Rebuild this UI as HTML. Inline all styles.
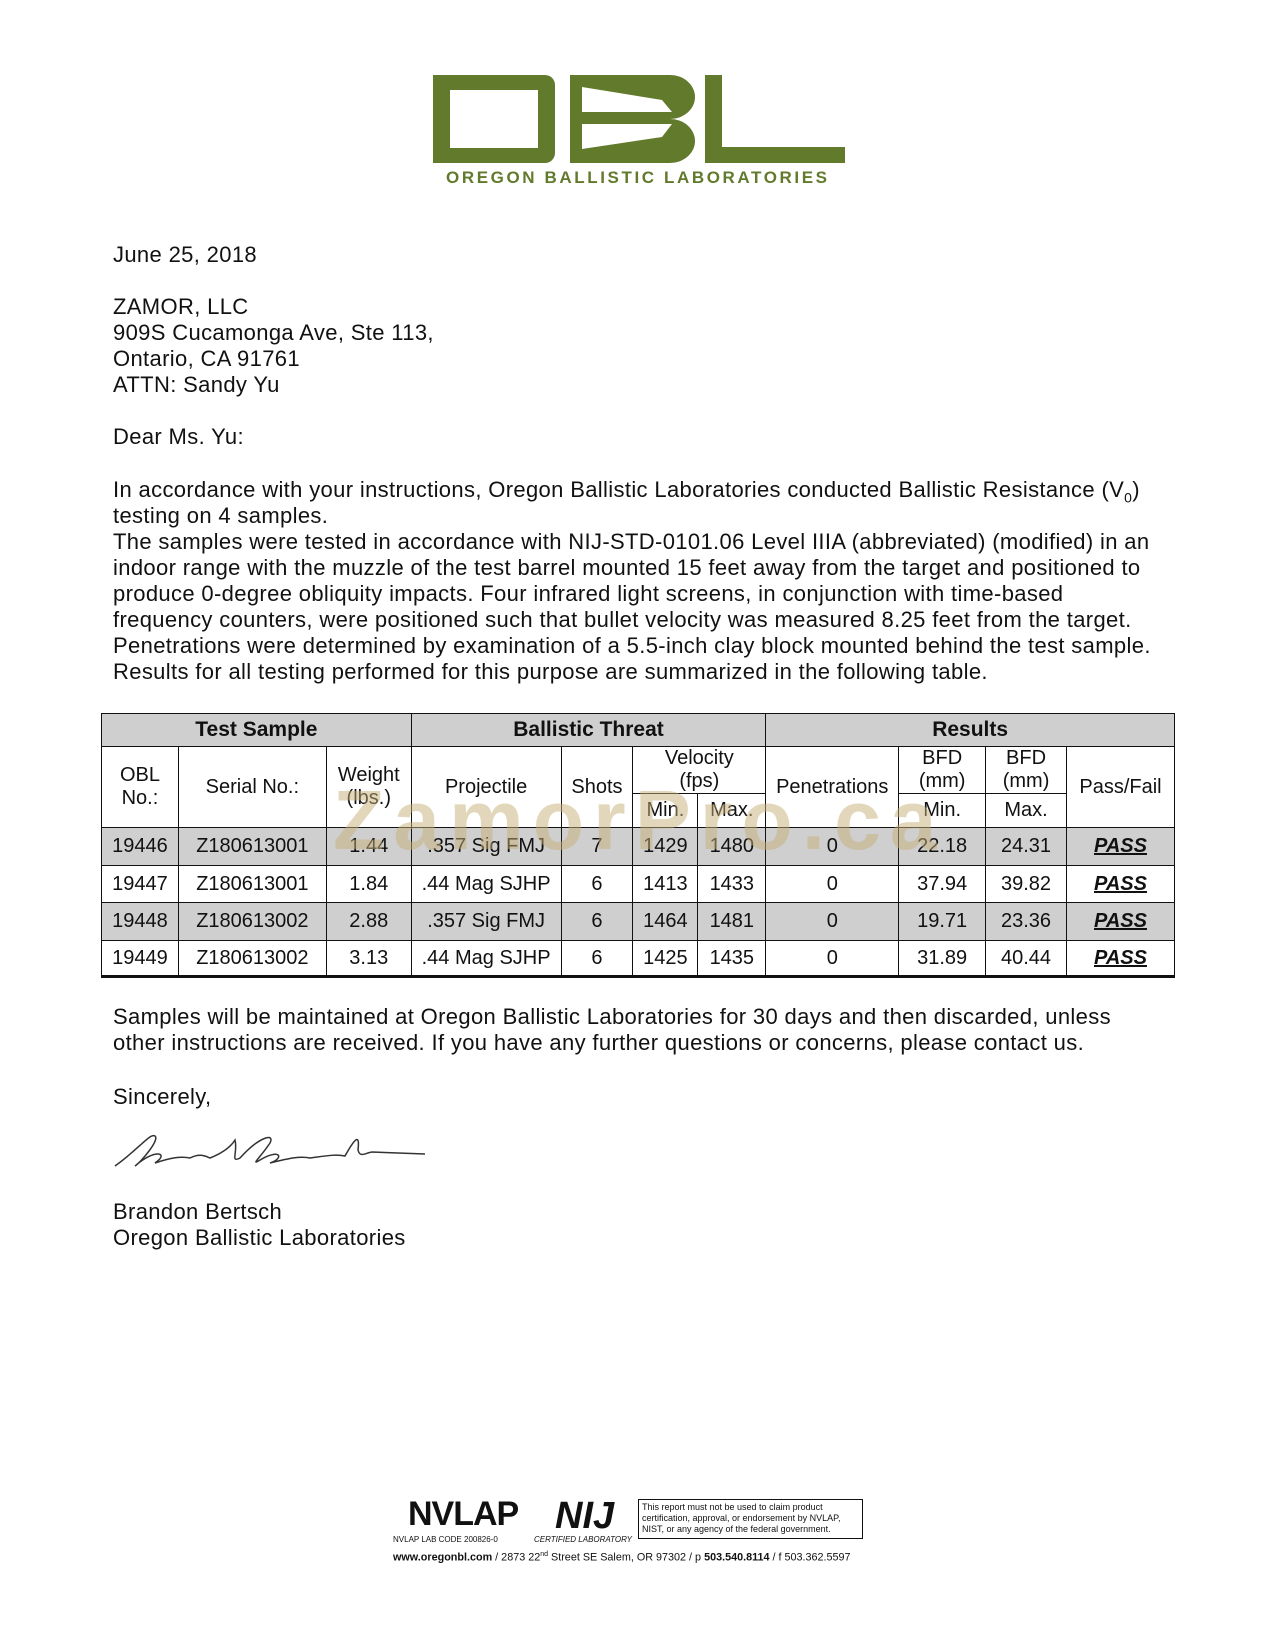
<!DOCTYPE html>
<html><head><meta charset="utf-8"><style>
body{margin:0;background:#fff;}
#p{position:relative;width:1275px;height:1641px;overflow:hidden;font-family:"Liberation Sans",Arial,sans-serif;color:#111;}
.t{position:absolute;left:113px;font-size:22px;line-height:26px;white-space:nowrap;letter-spacing:0.35px;}
sub{line-height:0;font-size:14px;}
table{position:absolute;left:101px;top:713px;width:1074px;border-collapse:collapse;font-size:20px;}
td{border:1.5px solid #111;text-align:center;padding:0;}
.g{background:#cfcfcf;}
.h td{font-weight:bold;font-size:21px;}
.pass{font-weight:bold;font-style:italic;text-decoration:underline;}
</style></head><body><div id="p">
<svg style="position:absolute;left:430px;top:72px" width="420" height="115">
<g fill="#627a2c">
<path d="M3 3h112a10 10 0 0 1 10 10v68a10 10 0 0 1-10 10H3z M20 18v58h88V18z" fill-rule="evenodd"/>
<path d="M140 3h100a25 22 0 0 1 0 44a25 22 0 0 1 0 44H140z M152 15v25h90l-10-12-80-13z M152 52v25l80-12 10-13z" fill-rule="evenodd"/>
<path d="M275 3h17v72h123v16H275z"/>
</g>
<text x="16" y="111" font-family="Liberation Sans,Arial,sans-serif" font-weight="bold" font-size="17" fill="#627a2c" letter-spacing="2.6">OREGON BALLISTIC LABORATORIES</text>
</svg>
<div class="t" style="top:242px">June 25, 2018</div>
<div class="t" style="top:294px">ZAMOR, LLC<br>909S Cucamonga Ave, Ste 113,<br>Ontario, CA 91761<br>ATTN: Sandy Yu</div>
<div class="t" style="top:424px">Dear Ms. Yu:</div>
<div class="t" style="top:477px">In accordance with your instructions, Oregon Ballistic Laboratories conducted Ballistic Resistance (V<sub>0</sub>)<br>testing on 4 samples.<br>The samples were tested in accordance with NIJ-STD-0101.06 Level IIIA (abbreviated) (modified) in an<br>indoor range with the muzzle of the test barrel mounted 15 feet away from the target and positioned to<br>produce 0-degree obliquity impacts. Four infrared light screens, in conjunction with time-based<br>frequency counters, were positioned such that bullet velocity was measured 8.25 feet from the target.<br>Penetrations were determined by examination of a 5.5-inch clay block mounted behind the test sample.<br>Results for all testing performed for this purpose are summarized in the following table.</div>
<table>
<colgroup><col style="width:77px"><col style="width:148px"><col style="width:85px"><col style="width:150px"><col style="width:72px"><col style="width:65px"><col style="width:68px"><col style="width:133px"><col style="width:87px"><col style="width:81px"><col style="width:108px"></colgroup>
<tr class="h g" style="height:33px"><td colspan="3">Test Sample</td><td colspan="4">Ballistic Threat</td><td colspan="4">Results</td></tr>
<tr style="height:47px"><td rowspan="2">OBL<br>No.:</td><td rowspan="2">Serial No.:</td><td rowspan="2">Weight<br>(lbs.)</td><td rowspan="2">Projectile</td><td rowspan="2">Shots</td><td colspan="2">Velocity<br>(fps)</td><td rowspan="2">Penetrations</td><td>BFD<br>(mm)</td><td>BFD<br>(mm)</td><td rowspan="2">Pass/Fail</td></tr>
<tr style="height:34px"><td>Min.</td><td>Max.</td><td>Min.</td><td>Max.</td></tr>
<tr class="g" style="height:38px"><td>19446</td><td>Z180613001</td><td>1.44</td><td>.357 Sig FMJ</td><td>7</td><td>1429</td><td>1480</td><td>0</td><td>22.18</td><td>24.31</td><td class="pass">PASS</td></tr>
<tr style="height:37px"><td>19447</td><td>Z180613001</td><td>1.84</td><td>.44 Mag SJHP</td><td>6</td><td>1413</td><td>1433</td><td>0</td><td>37.94</td><td>39.82</td><td class="pass">PASS</td></tr>
<tr class="g" style="height:38px"><td>19448</td><td>Z180613002</td><td>2.88</td><td>.357 Sig FMJ</td><td>6</td><td>1464</td><td>1481</td><td>0</td><td>19.71</td><td>23.36</td><td class="pass">PASS</td></tr>
<tr style="height:36px;border-bottom:3px solid #111"><td>19449</td><td>Z180613002</td><td>3.13</td><td>.44 Mag SJHP</td><td>6</td><td>1425</td><td>1435</td><td>0</td><td>31.89</td><td>40.44</td><td class="pass">PASS</td></tr>
</table>
<div style="position:absolute;left:333px;top:772px;font-size:84px;font-weight:bold;color:rgba(200,175,120,0.5);white-space:nowrap;letter-spacing:9px">ZamorPro.ca</div>
<div class="t" style="top:1004px">Samples will be maintained at Oregon Ballistic Laboratories for 30 days and then discarded, unless<br>other instructions are received. If you have any further questions or concerns, please contact us.</div>
<div class="t" style="top:1084px">Sincerely,</div>
<svg style="position:absolute;left:110px;top:1128px" width="320" height="45"><path d="M5 38 C30 20 40 5 45 8 C50 12 30 35 25 38 C45 20 60 25 45 35 C60 30 70 28 80 30 C90 25 95 28 100 30 C110 26 120 20 125 12 C128 25 120 35 130 30 C150 8 165 5 160 15 C150 30 140 38 150 32 C170 20 175 30 160 35 C180 30 190 28 200 30 C215 28 225 26 235 28 C245 10 250 5 248 22 C250 30 255 25 262 24 L315 26" fill="none" stroke="#333" stroke-width="1.5"/></svg>
<div class="t" style="top:1199px">Brandon Bertsch<br>Oregon Ballistic Laboratories</div>
<div style="position:absolute;left:408px;top:1495px;font-size:34px;font-weight:900;letter-spacing:-1px">NVLAP</div>
<div style="position:absolute;left:393px;top:1535px;font-size:8px">NVLAP LAB CODE 200826-0</div>
<div style="position:absolute;left:555px;top:1495px;font-size:38px;font-weight:900;font-style:italic">NIJ</div>
<div style="position:absolute;left:534px;top:1535px;font-size:8px;font-style:italic">CERTIFIED LABORATORY</div>
<div style="position:absolute;left:638px;top:1499px;width:225px;height:40px;border:1px solid #111;font-size:9px;line-height:11px;padding:2px 3px;box-sizing:border-box">This report must not be used to claim product certification, approval, or endorsement by NVLAP, NIST, or any agency of the federal government.</div>
<div style="position:absolute;left:393px;top:1551px;font-size:10.8px;white-space:nowrap"><b>www.oregonbl.com</b> / 2873 22<sup style="font-size:7px">nd</sup> Street SE Salem, OR 97302 / p <b>503.540.8114</b> / f 503.362.5597</div>
</div></body></html>
